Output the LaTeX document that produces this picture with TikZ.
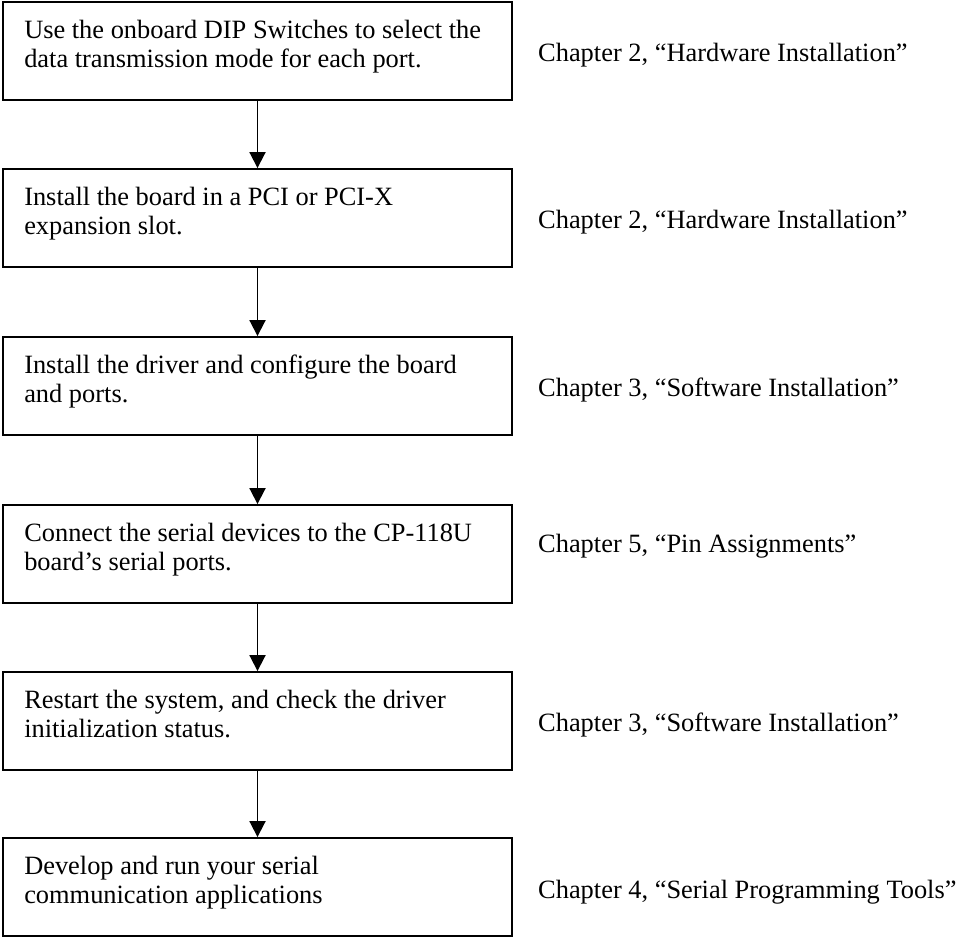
\documentclass[tikz,border=0pt]{standalone}
\usepackage{fontspec}
\setmainfont{Liberation Serif}
\usetikzlibrary{arrows.meta,positioning}

\tikzset{
	stepbox/.style={draw,line width=1.9pt,minimum width=509pt,minimum height=98pt,inner sep=0pt},
	steptext/.style={align=left,inner sep=0pt,font=\fontsize{26.4}{29.3}\selectfont},
	chaptext/.style={anchor=base west,inner sep=0pt,font=\fontsize{26.4}{29.3}\selectfont},
	flow/.style={line width=1.9pt,-{Triangle[width=16pt,length=16pt]}}
}

\begin{document}
\begin{tikzpicture}[x=1pt,y=-1pt]

		\useasboundingbox (0,0) rectangle (960,937);

		\node[stepbox] (S1) at (257.5, 51) {};
		\node[stepbox] (S2) at (257.5, 218) {};
		\node[stepbox] (S3) at (257.5, 386) {};
		\node[stepbox] (S4) at (257.5, 554) {};
		\node[stepbox] (S5) at (257.5, 721) {};
		\node[stepbox] (S6) at (257.5, 887) {};

		\node[steptext,below right=17pt and 22pt of S1.north west] (T1) {\rule{0pt}{20pt}Use the onboard DIP Switches to select the\\data transmission mode for each port.};
		\node[steptext,below right=17pt and 22pt of S2.north west] (T2) {\rule{0pt}{20pt}Install the board in a PCI or PCI-X\\expansion slot.};
		\node[steptext,below right=17pt and 22pt of S3.north west] (T3) {\rule{0pt}{20pt}Install the driver and configure the board\\and ports.};
		\node[steptext,below right=17pt and 22pt of S4.north west] (T4) {\rule{0pt}{20pt}Connect the serial devices to the CP-118U\\board’s serial ports.};
		\node[steptext,below right=17pt and 22pt of S5.north west] (T5) {\rule{0pt}{20pt}Restart the system, and check the driver\\initialization status.};
		\node[steptext,below right=17pt and 22pt of S6.north west] (T6) {\rule{0pt}{20pt}Develop and run your serial\\communication applications};

		\draw[flow] (S1) -- (S2);
		\draw[flow] (S2) -- (S3);
		\draw[flow] (S3) -- (S4);
		\draw[flow] (S4) -- (S5);
		\draw[flow] (S5) -- (S6);

		\node[chaptext] (C1) at (538, 61) {Chapter 2, “Hardware Installation”};
		\node[chaptext] (C2) at (538, 228) {Chapter 2, “Hardware Installation”};
		\node[chaptext] (C3) at (538, 396) {Chapter 3, “Software Installation”};
		\node[chaptext] (C4) at (538, 552) {Chapter 5, “Pin Assignments”};
		\node[chaptext] (C5) at (538, 731) {Chapter 3, “Software Installation”};
		\node[chaptext] (C6) at (538, 898) {Chapter 4, “Serial Programming Tools”};

	\end{tikzpicture}
\end{document}
